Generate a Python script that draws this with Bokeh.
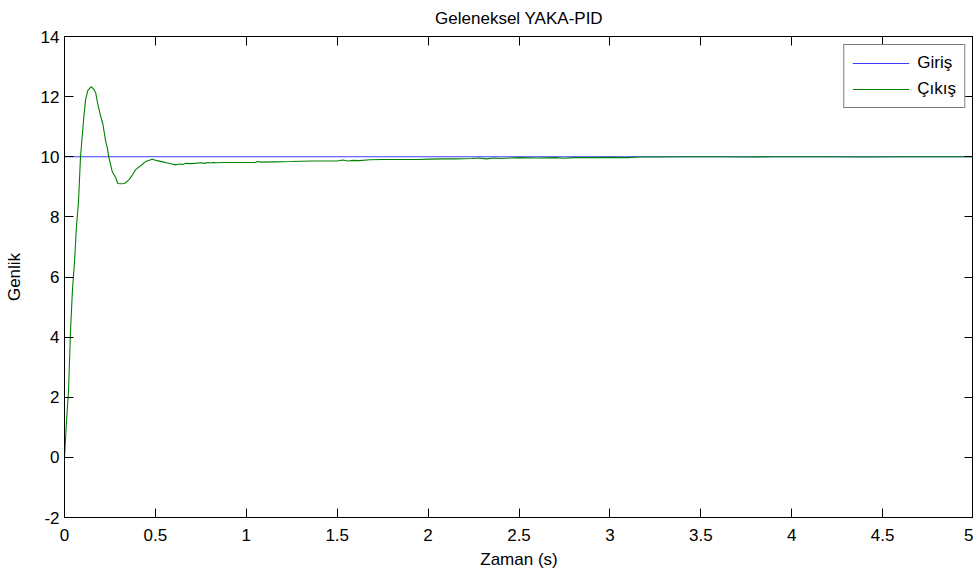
from bokeh.plotting import figure
from bokeh.models import LinearAxis, FixedTicker, Legend, LegendItem, ColumnDataSource
from bokeh.embed import file_html
from bokeh.resources import INLINE

# --- data ---
t_out = [0.0, 0.011, 0.022, 0.033, 0.044, 0.055, 0.066, 0.077, 0.088, 0.094, 0.106,
         0.116, 0.128, 0.147, 0.160, 0.171, 0.183, 0.198, 0.211, 0.226, 0.235, 0.244,
         0.263, 0.281, 0.293, 0.310, 0.330, 0.354, 0.373, 0.391, 0.419, 0.446, 0.483,
         0.51, 0.54, 0.566, 0.59, 0.611, 0.625, 0.639, 0.652, 0.666, 0.70, 0.749,
         0.77, 0.79, 0.80, 0.82, 0.84, 0.87, 0.95, 1.05, 1.06, 1.08, 1.15, 1.25,
         1.30, 1.36, 1.40, 1.50, 1.53, 1.56, 1.59, 1.62, 1.68, 1.75, 1.85, 1.95,
         2.00, 2.09, 2.15, 2.24, 2.28, 2.32, 2.36, 2.40, 2.45, 2.50, 2.60, 2.70,
         2.75, 2.80, 2.90, 3.00, 3.10, 3.16, 3.25, 3.40, 3.60, 3.75, 3.90, 4.00,
         4.20, 4.40, 4.60, 4.80, 5.00]
y_out = [0.0, 1.2, 2.2, 4.2, 5.6, 6.5, 7.7, 8.5, 10.0, 10.43, 11.3,
         11.9, 12.2, 12.33, 12.25, 12.14, 11.76, 11.37, 11.09, 10.53, 10.31, 9.98,
         9.5, 9.31, 9.11, 9.10, 9.11, 9.23, 9.39, 9.57, 9.7, 9.84, 9.92,
         9.87, 9.83, 9.79, 9.76, 9.73, 9.75, 9.76, 9.74, 9.78, 9.77, 9.80,
         9.78, 9.81, 9.79, 9.81, 9.80, 9.81, 9.81, 9.81, 9.84, 9.82, 9.83, 9.84,
         9.85, 9.86, 9.86, 9.86, 9.89, 9.86, 9.88, 9.87, 9.90, 9.91, 9.91, 9.91,
         9.92, 9.93, 9.93, 9.94, 9.96, 9.93, 9.96, 9.94, 9.96, 9.97, 9.96, 9.97,
         9.95, 9.97, 9.97, 9.98, 9.97, 9.99, 9.99, 10.0, 10.0, 9.99, 10.0, 10.0,
         10.0, 9.99, 10.0, 10.0, 10.0]
t_in = [0.0, 5.0]
y_in = [10.0, 10.0]

x_ticks = [0, 0.5, 1, 1.5, 2, 2.5, 3, 3.5, 4, 4.5, 5]
x_tick_labels = ["0", "0.5", "1", "1.5", "2", "2.5", "3", "3.5", "4", "4.5", "5"]
y_ticks = [-2, 0, 2, 4, 6, 8, 10, 12, 14]
y_tick_labels = ["-2", "0", "2", "4", "6", "8", "10", "12", "14"]

FONT = "Liberation Sans"
FS = "17px"

p = figure(width=973, height=572, output_backend="svg", toolbar_location=None,
           x_range=(0, 5), y_range=(-2, 14), title="Geleneksel YAKA-PID",
           min_border_left=64, min_border_right=0, min_border_top=36, min_border_bottom=55)
p.background_fill_color = "white"
p.border_fill_color = "white"
p.outline_line_color = "black"
p.outline_line_width = 1
p.grid.visible = False

p.title.align = "center"
p.title.vertical_align = "top"
p.title.text_font = FONT
p.title.text_font_size = FS
p.title.text_font_style = "normal"
p.title.text_color = "black"
p.title.standoff = 14

src_in = ColumnDataSource(dict(t=t_in, y=y_in))
src_out = ColumnDataSource(dict(t=t_out, y=y_out))
r_in = p.line("t", "y", source=src_in, line_color="#3c3cff", line_width=1.2)
r_out = p.line("t", "y", source=src_out, line_color="#008000", line_width=1.1)

def style_axis(ax):
    ax.axis_line_color = "black"
    ax.major_tick_in = 9
    ax.major_tick_out = 0
    ax.minor_tick_in = 0
    ax.minor_tick_out = 0
    ax.major_tick_line_color = "black"
    ax.major_label_text_font = FONT
    ax.major_label_text_font_size = FS
    ax.major_label_text_color = "black"
    ax.axis_label_text_font = FONT
    ax.axis_label_text_font_size = FS
    ax.axis_label_text_font_style = "normal"
    ax.axis_label_text_color = "black"

xa = p.xaxis[0]
xa.ticker = FixedTicker(ticks=x_ticks)
xa.major_label_overrides = {v: s for v, s in zip(x_ticks, x_tick_labels)}
xa.axis_label = "Zaman (s)"
style_axis(xa)
xa.major_label_standoff = 11
xa.axis_label_standoff = 6

ya = p.yaxis[0]
ya.ticker = FixedTicker(ticks=y_ticks)
ya.major_label_overrides = {v: s for v, s in zip(y_ticks, y_tick_labels)}
ya.axis_label = "Genlik"
style_axis(ya)
ya.major_label_standoff = 5
ya.axis_label_standoff = 14

top = LinearAxis(ticker=FixedTicker(ticks=x_ticks))
style_axis(top)
top.major_label_overrides = {v: "" for v in x_ticks}
top.major_label_standoff = 0
p.add_layout(top, "above")

right = LinearAxis(ticker=FixedTicker(ticks=y_ticks))
style_axis(right)
right.major_label_overrides = {v: "" for v in y_ticks}
right.major_label_standoff = 0
p.add_layout(right, "right")

legend = Legend(items=[LegendItem(label="Giriş", renderers=[r_in]),
                       LegendItem(label="Çıkış", renderers=[r_out])],
                location="top_right")
legend.border_line_color = "black"
legend.border_line_width = 1
legend.background_fill_color = "white"
legend.background_fill_alpha = 1
legend.label_text_font = FONT
legend.label_text_font_size = FS
legend.label_text_color = "black"
legend.glyph_width = 57
legend.glyph_height = 14
legend.label_height = 14
legend.spacing = 6
legend.padding = 8
legend.label_standoff = 8
legend.margin = 8
p.add_layout(legend)

open("out.html", "w").write(file_html(p, INLINE))
